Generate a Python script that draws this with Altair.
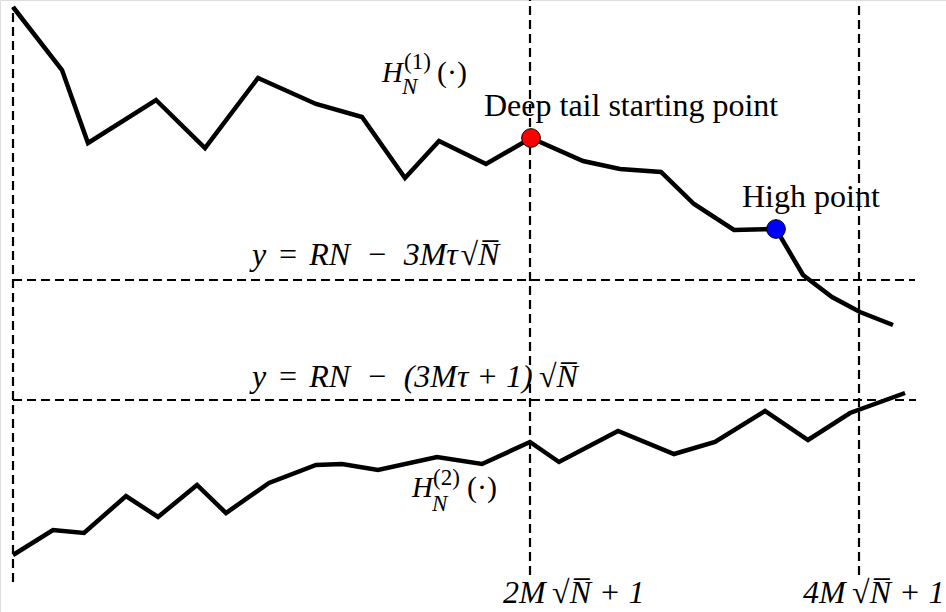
import altair as alt
import pandas as pd

# Two random-walk style height profiles (x position, height level)
h1_x = [13, 62, 88, 156, 205, 258, 316, 362, 405, 439, 486, 531, 583, 620, 661, 694, 734, 776, 803, 832, 860, 893]
h1_y = [605, 542, 469, 512, 464, 534, 508, 495, 434, 471, 448, 474, 451, 443, 440, 408, 382, 383, 337, 315, 300, 287]

h2_x = [13, 53, 84, 126, 158, 197, 226, 269, 316, 342, 378, 437, 482, 530, 559, 618, 674, 715, 765, 808, 850, 905]
h2_y = [57, 82, 79, 116, 95, 127, 99, 129, 147, 148, 142, 155, 148, 170, 150, 181, 158, 170, 201, 172, 199, 219]

# Marked points on the upper curve
pt_names = ["Deep tail starting point", "High point"]
pt_x = [531, 776]
pt_y = [474, 383]
pt_colors = ["#ff0000", "#0000ff"]

# Reference levels and vertical markers (dashed guides)
guide_x = [13, 530, 859, 13, 13]
guide_x2 = [13, 530, 859, 915, 916]
guide_y = [30, 37, 37, 332, 212]
guide_y2 = [605, 612, 607, 332, 212]

W, H = 946, 612
FONT = "Liberation Serif"

# spacing characters used inside the formulas
EN = "\u2002"
THICK = "\u2004"
THIN = "\u2009"
HAIR = "\u200a"
SQRT_N = "\u221aN\u0305"

xs = alt.Scale(domain=[0, W], nice=False, zero=False)
ys = alt.Scale(domain=[0, H], nice=False, zero=False)

paths = pd.DataFrame(
    [{"series": "H1", "order": i, "x": x, "y": y} for i, (x, y) in enumerate(zip(h1_x, h1_y))]
    + [{"series": "H2", "order": i, "x": x, "y": y} for i, (x, y) in enumerate(zip(h2_x, h2_y))]
)
guides = pd.DataFrame({"x": guide_x, "x2": guide_x2, "y": guide_y, "y2": guide_y2})
points = pd.DataFrame({"name": pt_names, "x": pt_x, "y": pt_y, "c": pt_colors})

guide_layer = alt.Chart(guides).mark_rule(
    color="black", strokeWidth=2.2, strokeDash=[9, 5]
).encode(
    x=alt.X("x:Q", scale=xs, axis=None),
    x2="x2:Q",
    y=alt.Y("y:Q", scale=ys, axis=None),
    y2="y2:Q",
)

line_layer = alt.Chart(paths).mark_line(
    color="black", strokeWidth=4.5, strokeJoin="miter", strokeCap="butt"
).encode(
    x=alt.X("x:Q", scale=xs, axis=None),
    y=alt.Y("y:Q", scale=ys, axis=None),
    detail="series:N",
    order="order:Q",
)

point_layer = alt.Chart(points).mark_point(
    filled=True, size=350, stroke="black", strokeWidth=1, opacity=1
).encode(
    x=alt.X("x:Q", scale=xs, axis=None),
    y=alt.Y("y:Q", scale=ys, axis=None),
    fill=alt.Fill("c:N", scale=None),
)

f1 = f"y{THICK}={THICK}RN{EN}\u2212{EN}3M\u03c4{HAIR}{SQRT_N}"
f2 = f"y{THICK}={THICK}RN{EN}\u2212{EN}(3M\u03c4 + 1){THIN}{SQRT_N}"

# Annotation text: (text, x, baseline level, size, style)
labels = pd.DataFrame([
    {"t": "Deep tail starting point", "x": 484, "y": 496, "s": 32, "st": "normal"},
    {"t": "High point", "x": 742, "y": 405, "s": 32, "st": "normal"},
    {"t": f1, "x": 252, "y": 347, "s": 32, "st": "italic"},
    {"t": f2, "x": 252, "y": 225, "s": 32, "st": "italic"},
    {"t": f"2M{THIN}{SQRT_N} + 1", "x": 503, "y": 9, "s": 32, "st": "italic"},
    {"t": f"4M{THIN}{SQRT_N} + 1", "x": 803, "y": 9, "s": 32, "st": "italic"},
    {"t": "H", "x": 382, "y": 530, "s": 29, "st": "italic"},
    {"t": "N", "x": 402, "y": 518, "s": 23, "st": "italic"},
    {"t": "(1)", "x": 404, "y": 543, "s": 23, "st": "normal"},
    {"t": "(\u00b7)", "x": 437, "y": 530, "s": 30, "st": "normal"},
    {"t": "H", "x": 412, "y": 115, "s": 29, "st": "italic"},
    {"t": "N", "x": 432, "y": 101, "s": 23, "st": "italic"},
    {"t": "(2)", "x": 433, "y": 127, "s": 23, "st": "normal"},
    {"t": "(\u00b7)", "x": 467, "y": 115, "s": 30, "st": "normal"},
])

text_layers = []
for (s, st), grp in labels.groupby(["s", "st"]):
    text_layers.append(
        alt.Chart(grp).mark_text(
            align="left", baseline="alphabetic", font=FONT, fontSize=int(s),
            fontStyle=st, color="black",
        ).encode(
            x=alt.X("x:Q", scale=xs, axis=None),
            y=alt.Y("y:Q", scale=ys, axis=None),
            text="t:N",
        )
    )

chart = alt.layer(guide_layer, line_layer, point_layer, *text_layers).properties(
    width=W, height=H, padding=0, autosize=alt.AutoSizeParams(type="none")
).configure_view(stroke=None).configure(background="white")

chart.save("out.html", embed_options={"renderer": "svg", "actions": False})
